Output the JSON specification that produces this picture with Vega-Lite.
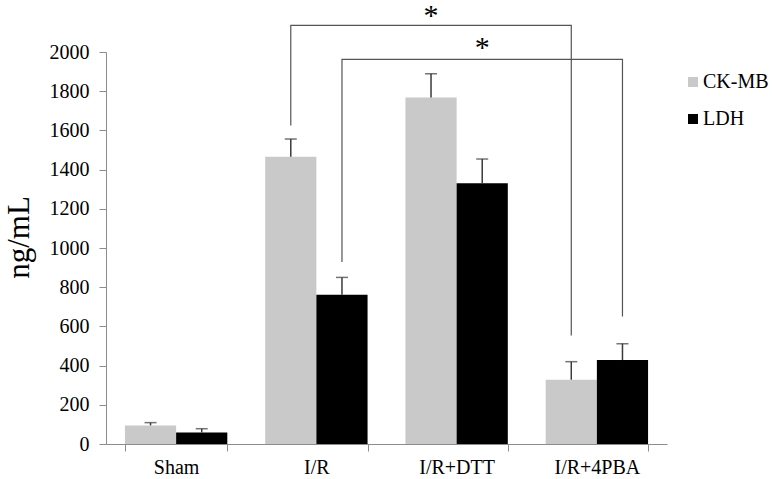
{
  "$schema": "https://vega.github.io/schema/vega-lite/v6.json",
  "autosize": "none",
  "width": 561,
  "height": 392,
  "padding": {"left": 106, "top": 52, "right": 105, "bottom": 35},
  "background": "white",
  "config": {
    "view": {"stroke": null},
    "font": "Liberation Serif",
    "axisY": {
      "labelFont": "Liberation Serif",
      "labelFontSize": 20,
      "labelColor": "#000000",
      "labelPadding": 10,
      "labelOverlap": false,
      "domainColor": "#8c8c8c",
      "tickColor": "#8c8c8c",
      "tickSize": 7,
      "grid": false,
      "format": "d"
    }
  },
  "datasets": {
    "bars": [
      {"group": "Sham", "series": "CK-MB", "value": 95, "upper": 109},
      {"group": "Sham", "series": "LDH", "value": 59, "upper": 78},
      {"group": "I/R", "series": "CK-MB", "value": 1466, "upper": 1556},
      {"group": "I/R", "series": "LDH", "value": 762, "upper": 850},
      {"group": "I/R+DTT", "series": "CK-MB", "value": 1768, "upper": 1889},
      {"group": "I/R+DTT", "series": "LDH", "value": 1330, "upper": 1454},
      {"group": "I/R+4PBA", "series": "CK-MB", "value": 328, "upper": 420},
      {"group": "I/R+4PBA", "series": "LDH", "value": 428, "upper": 512}
    ],
    "brackets": [
      {"bracket": "a", "order": 1, "group": "I/R", "series": "CK-MB", "value": 1625},
      {"bracket": "a", "order": 2, "group": "I/R", "series": "CK-MB", "value": 2136},
      {"bracket": "a", "order": 3, "group": "I/R+4PBA", "series": "CK-MB", "value": 2136},
      {"bracket": "a", "order": 4, "group": "I/R+4PBA", "series": "CK-MB", "value": 554},
      {"bracket": "b", "order": 1, "group": "I/R", "series": "LDH", "value": 929},
      {"bracket": "b", "order": 2, "group": "I/R", "series": "LDH", "value": 1962},
      {"bracket": "b", "order": 3, "group": "I/R+4PBA", "series": "LDH", "value": 1962},
      {"bracket": "b", "order": 4, "group": "I/R+4PBA", "series": "LDH", "value": 651}
    ],
    "stars": [
      {"group": "I/R+DTT", "series": "CK-MB", "value": 2260, "label": "*"},
      {"group": "I/R+DTT", "series": "LDH", "value": 2097, "label": "*"}
    ]
  },
  "encoding": {
    "x": {
      "field": "group",
      "type": "nominal",
      "sort": ["Sham", "I/R", "I/R+DTT", "I/R+4PBA"],
      "scale": {"domain": ["Sham", "I/R", "I/R+DTT", "I/R+4PBA"], "paddingInner": 0.27, "paddingOuter": 0.135},
      "axis": {
        "title": null,
        "labelAngle": 0,
        "labelFont": "Liberation Serif",
        "labelFontSize": 20,
        "labelColor": "#000000",
        "labelPadding": 6,
        "domainColor": "#8c8c8c",
        "tickColor": "#8c8c8c",
        "tickBand": "extent",
        "tickSize": 7,
        "grid": false
      }
    },
    "xOffset": {
      "field": "series",
      "type": "nominal",
      "scale": {"domain": ["CK-MB", "LDH"], "paddingInner": 0, "paddingOuter": 0}
    },
    "y": {
      "field": "value",
      "type": "quantitative",
      "scale": {"domain": [0, 2000], "nice": false},
      "axis": {
        "title": "ng/mL",
        "titleFont": "Liberation Serif",
        "titleFontSize": 31,
        "titleFontWeight": "normal",
        "titleColor": "#000000",
        "titleX": -78,
        "titleY": 185,
        "titleBaseline": "alphabetic",
        "titleAngle": -90,
        "values": [0, 200, 400, 600, 800, 1000, 1200, 1400, 1600, 1800, 2000]
      }
    }
  },
  "layer": [
    {
      "data": {"name": "bars"},
      "mark": {"type": "bar"},
      "encoding": {
        "color": {
          "field": "series",
          "type": "nominal",
          "scale": {"domain": ["CK-MB", "LDH"], "range": ["#c9c9c9", "#000000"]},
          "legend": {
            "title": null,
            "orient": "none",
            "legendX": 577,
            "legendY": 20,
            "symbolType": "square",
            "symbolSize": 100,
            "symbolStrokeWidth": 0,
            "labelFont": "Liberation Serif",
            "labelFontSize": 20,
            "labelColor": "#000000",
            "rowPadding": 17,
            "labelOffset": 0,
            "labelLimit": 200,
            "padding": 0
          }
        }
      }
    },
    {
      "data": {"name": "bars"},
      "mark": {"type": "rule", "color": "#3a3a3a", "strokeWidth": 1.5},
      "encoding": {
        "y2": {"field": "upper"}
      }
    },
    {
      "data": {"name": "bars"},
      "mark": {"type": "tick", "color": "#3a3a3a", "thickness": 1.5, "size": 12},
      "encoding": {
        "y": {"field": "upper", "type": "quantitative"}
      }
    },
    {
      "data": {"name": "brackets"},
      "mark": {"type": "line", "color": "#555555", "strokeWidth": 1.2},
      "encoding": {
        "detail": {"field": "bracket"},
        "order": {"field": "order", "type": "quantitative"}
      }
    },
    {
      "data": {"name": "stars"},
      "mark": {"type": "text", "fontSize": 30, "font": "Liberation Serif", "color": "#000000", "baseline": "top"},
      "encoding": {
        "text": {"field": "label"}
      }
    }
  ]
}
